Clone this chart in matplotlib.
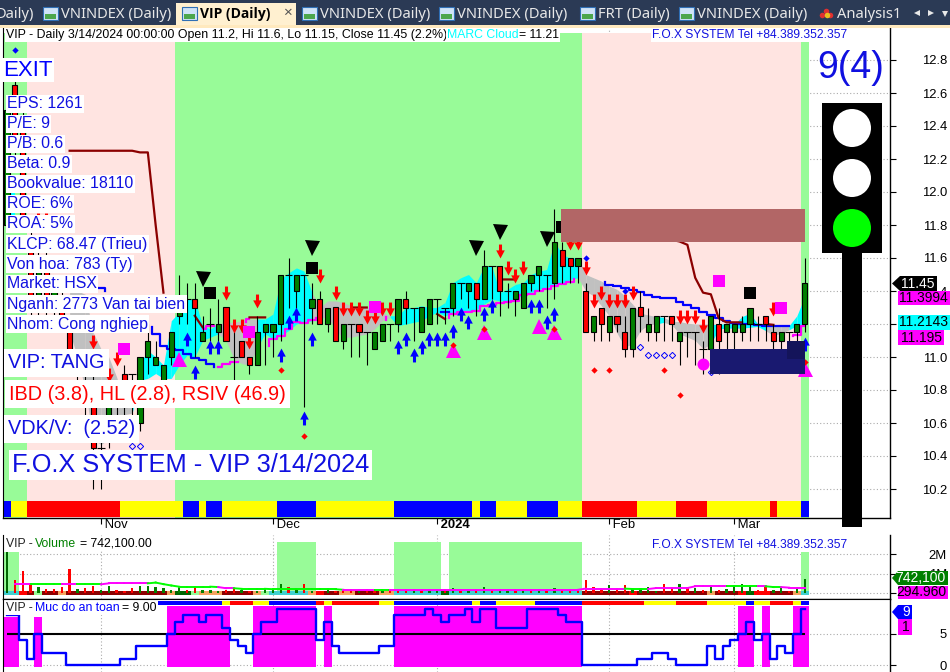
import numpy as np
import matplotlib
matplotlib.use('Agg')
import matplotlib.pyplot as plt
from matplotlib.patches import Rectangle, Circle
from matplotlib.path import Path

plt.rcParams['font.family'] = ['Liberation Sans', 'DejaVu Sans']
nan = np.nan

# candles, one row per session
opens = [11.8,12.65,12.45,11.7,11.3,11.6,11.3,11.35,11.2,10.95,10.8,10.75,10.45,10.65,10.75,10.9,10.9,
         10.6,11.0,10.95,10.8,11.0,11.25,11.35,11.35,11.1,11.2,11.15,11.3,11.0,11.1,11.0,10.95,11.15,11.15,11.2,11.5,11.4,
         11.5,11.3,11.35,11.2,11.3,11.1,11.2,11.2,11.15,11.05,11.1,11.2,11.2,11.35,11.3,11.15,11.2,11.35,11.3,11.3,11.45,11.4,11.45,11.35,11.55,11.55,11.4,11.35,11.3,11.45,11.5,11.5,11.45,11.65,11.6,11.55,
         11.4,11.15,11.3,11.15,11.25,11.15,11.05,11.3,11.15,11.15,11.25,11.25,11.1,11.15,11.15,11.05,11.05,11.2,11.15,11.15,11.15,11.2,11.2,11.25,11.15,11.1,11.15,11.15,11.2]
closes = [12.5,12.25,11.85,11.3,11.6,11.3,11.4,11.25,11.05,10.95,10.8,10.45,10.45,10.8,10.75,10.7,10.9,
          11.0,11.1,11.0,10.95,11.15,11.3,11.35,11.3,11.15,11.2,11.2,11.1,11.0,11.0,10.95,11.15,11.2,11.2,11.5,11.5,11.5,
          11.5,11.35,11.2,11.3,11.1,11.2,11.2,11.15,11.15,11.15,11.2,11.2,11.35,11.3,11.3,11.3,11.35,11.35,11.3,11.45,11.45,11.45,11.35,11.55,11.55,11.4,11.4,11.4,11.45,11.5,11.55,11.5,11.7,11.55,11.55,11.6,
          11.15,11.25,11.2,11.25,11.2,11.05,11.3,11.25,11.2,11.25,11.25,11.2,11.15,11.15,11.15,11.05,11.25,11.1,11.2,11.2,11.2,11.3,11.2,11.2,11.1,11.15,11.15,11.2,11.45]
highs = [12.5,12.7,12.5,11.8,11.7,11.7,11.5,11.4,11.25,11.05,10.9,11.0,10.5,10.85,10.85,10.95,10.9,
         11.0,11.2,11.1,10.95,11.15,11.5,11.45,11.45,11.25,11.3,11.35,11.3,11.2,11.1,11.0,11.25,11.2,11.2,11.5,11.6,11.5,
         11.5,11.45,11.4,11.3,11.3,11.2,11.2,11.2,11.15,11.15,11.2,11.2,11.35,11.4,11.3,11.3,11.35,11.35,11.3,11.45,11.45,11.45,11.45,11.65,11.55,11.55,11.45,11.4,11.45,11.5,11.55,11.5,11.9,11.7,11.6,11.6,
         11.45,11.25,11.3,11.25,11.25,11.25,11.3,11.4,11.3,11.25,11.25,11.25,11.15,11.15,11.15,11.1,11.25,11.3,11.2,11.2,11.25,11.3,11.25,11.25,11.2,11.15,11.15,11.2,11.6]
lows = [11.8,12.2,11.8,11.2,11.25,11.25,11.25,11.2,11.0,10.7,10.65,10.2,10.2,10.45,10.65,10.65,10.65,
        10.55,10.9,10.95,10.75,10.95,11.2,11.2,11.0,11.1,11.1,11.05,11.1,10.85,11.0,10.9,10.95,10.95,11.0,11.1,11.3,11.3,
        10.7,11.2,11.2,11.15,11.1,11.05,11.0,11.0,10.95,11.05,11.1,11.1,11.15,11.2,11.1,11.15,11.2,11.2,11.2,11.25,11.35,11.3,11.25,11.35,11.35,11.25,11.3,11.25,11.3,11.4,11.4,11.3,11.35,11.45,11.45,11.45,
        11.15,11.1,11.1,11.1,11.15,11.0,11.0,11.15,11.1,11.1,11.1,11.1,10.95,11.0,10.95,10.9,11.0,10.9,11.0,11.05,11.1,11.1,11.1,11.1,11.05,11.0,11.0,11.05,11.15]

# cloud edges, nan where nothing shows
cloud_top = [12.0,12.0,nan,nan,nan,nan,nan,nan,11.40,11.40,11.38,11.15,11.05,11.0,10.88,10.73,10.70,
             10.96,11.04,11.00,10.95,11.22,11.27,11.35,11.35,11.19,11.17,11.20,11.21,11.21,11.22,11.23,11.23,11.23,11.26,11.47,11.51,11.54,
             11.52,11.39,11.30,11.34,11.34,11.33,11.31,11.30,11.30,11.30,11.27,11.25,11.25,11.30,11.30,11.31,11.30,11.30,11.33,11.45,11.48,11.50,11.45,11.55,11.55,11.39,11.41,11.44,11.45,11.50,11.52,11.53,11.70,11.62,11.60,11.60,
             11.50,11.48,11.46,11.43,11.41,11.37,11.32,11.265,11.255,11.245,11.24,11.215,11.215,11.205,11.20,11.20,11.20,11.195,11.205,11.20,11.245,11.265,11.20,11.19,11.19,11.19,11.19,11.25,11.366]
cloud_bot = [11.75,11.75,nan,nan,nan,nan,nan,nan,11.15,11.0,10.8,10.5,10.47,10.5,10.55,10.65,10.66,
             10.86,10.87,10.90,10.87,10.87,10.95,11.01,11.0,11.10,11.12,11.14,11.10,10.99,10.96,10.95,11.06,11.14,11.11,11.13,11.16,11.20,
             11.21,11.22,11.23,11.25,11.16,11.12,11.12,11.13,11.14,11.17,11.22,11.24,11.19,11.20,11.21,11.22,11.25,11.27,11.25,11.265,11.275,11.275,11.285,11.32,11.35,11.34,11.34,11.35,11.376,11.39,11.41,11.42,11.44,11.44,11.47,11.48,
             11.40,11.37,11.31,11.25,11.145,11.06,11.08,11.16,11.195,11.20,11.21,11.195,11.14,11.12,11.10,11.05,11.08,11.17,11.175,11.175,11.175,11.18,11.185,11.16,11.13,11.145,11.165,11.19,11.19]
cloud_gray = list(range(8, 17)) + list(range(28, 33)) + list(range(40, 50)) + list(range(74, 84)) + list(range(85, 91)) + [98, 99, 100]

# indicator lines, nan breaks the line
blue_x = [11,12,13,nan,18,19,20,21,22,23,24,25,26,27,nan,55,56,57,nan,76,77,78,79,80,81,82,83,84,85,86,87,88,89,90,91,92,93,94,95,96,97,98,99,100]
blue_y = [11.42,11.42,11.4,nan,11.18,11.14,11.066,11.05,11.04,11.02,10.995,10.98,10.96,10.94,nan,11.275,11.275,11.275,nan,
          11.453,11.437,11.43,11.417,11.406,11.395,11.376,11.366,11.36,11.356,11.335,11.315,11.295,11.275,11.255,11.235,11.22,11.205,11.2,11.198,11.195,11.19,11.19,11.19,11.19]
magenta_x = [27,28,29,30,nan,33,34,35,36,37,38,39,40,nan,48,49,nan,56,57,58,59,60,61,62,63,64,65,66,67,68,69,70,71,72,73,nan,99,nan,100,101,102]
magenta_y = [10.94,10.96,10.97,10.97,nan,11.066,11.11,11.13,11.17,11.21,11.208,11.225,11.235,nan,11.225,11.24,nan,11.235,11.26,11.27,11.275,11.28,11.31,11.315,11.33,11.335,11.34,11.376,11.38,11.40,11.415,11.43,11.44,11.457,11.47,nan,11.195,nan,11.13,11.135,11.19]
magenta2_x = [25,26,27,nan,30,31]
magenta2_y = [11.167,11.187,11.19,nan,11.21,11.23]
darkred_x = [8,9,10,11,12,13,14,15,16,17,18,19,20,nan,24,25,nan,31,32,33,nan,44,45,46,nan,55,56,nan,63,64,65,nan,84,85,86,87,88,89,90,91,92,93,94,nan,97,98]
darkred_y = [12.25,12.25,12.25,12.25,12.25,12.25,12.25,12.25,12.25,12.24,12.24,11.8,11.39,nan,11.25,11.18,nan,11.24,11.24,11.24,nan,11.30,11.30,11.30,nan,11.26,11.23,nan,11.47,11.47,11.47,nan,11.72,11.71,11.70,11.68,11.48,11.39,11.38,11.235,11.21,11.21,11.21,nan,11.2,11.195]

# signal markers: bar number and price
red_arrow_x = [4,5,11,13,14,28,29,30,31,32,40,42,43,44,45,46,47,48,49,63,64,65,66,72,73,74,75,76,77,78,79,80,86,87,88,89,98]
red_arrow_y = [11.83,11.83,11.09,10.89,10.99,11.39,11.19,11.19,11.09,11.34,11.49,11.39,11.29,11.29,11.29,11.24,11.24,11.29,11.29,11.64,11.54,11.49,11.54,11.69,11.69,11.54,11.34,11.39,11.34,11.34,11.34,11.39,11.24,11.24,11.24,11.19,11.29]
blue_arrow_x = [23,24,26,27,35,36,37,38,39,50,51,52,53,54,55,56,57,58,59,61,62,67,68,69,70,102]
blue_arrow_y = [11.11,10.91,11.06,11.06,11.01,11.21,11.26,10.63,11.11,11.06,11.11,11.01,11.06,11.11,11.11,11.11,11.16,11.26,11.21,11.26,11.31,11.31,11.31,11.21,11.26,11.08]
black_tri_x = [25,39,60,63,69]
black_tri_y = [11.47,11.66,11.66,11.76,11.715]
black_sq_x = [26,39,71,95]
black_sq_y = [11.39,11.54,11.79,11.39]
magenta_sq_x = [15,31,47,91,99]
magenta_sq_y = [11.05,11.15,11.305,11.46,11.30]
magenta_tri_x = [22,57,61,68,70,102]
magenta_tri_y = [10.99,11.04,11.15,11.19,11.15,10.93]
red_dia_x = [35,38,57,61,70,75,77,84,86,102]
red_dia_y = [10.92,10.52,11.07,11.17,11.17,10.92,10.92,10.92,10.77,10.97]
blue_dia_x = [1,74,79]
blue_dia_y = [12.86,11.6,11.40]
hollow_x = [16,17,81,82,83,84,85,90]
hollow_y = [10.46,10.46,11.06,11.01,11.01,11.01,11.01,10.91]

# run lengths in bars
bg_colors = ['#98FB98','#FFE4E1','#98FB98','#FFE4E1','#98FB98']
bg_runs = [3,19,52,28,1]
strip_colors = 'BYRYBYBYBYBYBYBYRYRYRYB'
strip_runs = [1,2,12,8,2,1,2,7,5,10,10,1,2,4,4,3,7,5,4,8,1,3,1]
safe_strip_colors = 'BYRYBRYRYBYBYBRYRYBYRYB'
safe_strip_runs = [9,1,3,2,6,1,1,6,2,10,1,2,5,6,8,4,4,5,1,2,3,1,1]

# volume panel, millions
volume = [2.12,.67,1.13,.53,.31,.2,.2,.3,1.23,.2,.27,.36,.15,.4,.15,.1,.27,.36,.36,.3,.25,.15,.4,.15,.3,.15,.15,.12,.15,.2,
          .15,.1,.12,.2,.15,.5,.3,.17,.46,.1,.08,.17,.1,.12,.15,.14,.1,.17,.12,.15,.12,.1,.15,.1,.14,.12,.1,.25,.1,.12,
          .14,.3,.12,.1,.14,.12,.1,.14,.12,.1,.25,.12,.14,.1,
          .68,.3,.17,.43,.17,.43,.22,.26,.3,.14,.46,.26,.5,.34,.26,.17,.43,.17,.24,.34,.46,.43,.17,.34,.17,.26,.14,.22,.742]
vol_colors = 'grrrgrrrrgrrggrrrgggggg' + 'rrgggrr' + 'grgg' + 'ggrgrgrgr' + 'rrgrrgrrrgrggrgrgrgrggrgrgrgrrr' + 'rrrgrrggggrrgrgrgrggggrrggrgg'
vol_ma = [.46]*12 + [.51]*6 + [.55,.47,.40,.34,.34,.34,.34,.34,.32,.26,.26,.23,.23,.23,.23] + [.21]*9 + [.18]*31 + [.24]*6 + [.22]*3 + [.27]*5 + [.36]*10 + [.32,.32,.29,.29,.29]
ma_colors = 'MGMGMGMGMGMGMGMGM'
ma_runs = [3,4,2,3,6,9,2,14,4,2,30,3,10,4,1,2,3]
band_colors = 'TRDLDODOKLODOLTORDODOTKTDRDODRKRDOT'
band_runs = [2,1,1,1,2,1,13,1,2,1,3,4,1,1,5,1,1,2,2,3,2,6,1,17,6,1,9,1,3,1,1,2,3,1,1]
vol_span_start = [-0.5,34.5,49.5,56.5,101.5]
vol_span_end = [1.5,39.5,55.5,73.5,102.5]
vol_span_top = [2.12,2.65,2.65,2.65,2.12]

# safety panel
safety = [8,8,4,1,5,2,2,2,0,0,0,0,0,0,0,1,1,3,3,3,3,5,7,8,8,7,8,8,6,4,3,2,5,7,7,9,9,9,9,9,4,7,3,2,2,2,2,2,3,3,
          8,8,8,8,9,8,7,8,8,9,7,9,9,6,6,6,6,9,9,9,9,8,7,7,0,0,0,0,0,0,0,1,1,2,2,1,0,0,0,0,3,1,3,4,5,7,4,5,1,3,2,5,9]

month_x = [12,34,55,77,93]
month_labels = [' Nov',' Dec',' 2024',' Feb',' Mar']
price_ticks = [10.2,10.4,10.6,10.8,11.0,11.2,11.4,11.6,11.8,12.0,12.2,12.4,12.6,12.8]

W, H = 950, 672
n = len(closes)
xs = np.arange(n)
GREEN, RED = '#008000', '#FF0000'
STRIP = {'B':'#0000FF','Y':'#FFFF00','R':'#FF0000'}
BAND = {'T':'#40D0D0','R':'#FF0000','D':'#8B0000','L':'#98FB98','O':'#F4A460','K':'#006400'}
DOTS = (0, (1, 2))

fig = plt.figure(figsize=(W/100, H/100), dpi=100, facecolor='white')

def panel(top, bottom):
    a = fig.add_axes([3/W, 1-bottom/H, 887/W, (bottom-top)/H])
    a.set_xlim(-0.52, (890-7.06)/7.82)
    a.yaxis.tick_right()
    a.spines['top'].set_visible(False)
    a.set_axisbelow(True)
    a.grid(True, color='#aaaaaa', ls=DOTS, lw=0.8)
    a.set_xticks(month_x)
    a.tick_params(axis='y', length=4, width=0.8, labelsize=9.4, pad=37)
    for t in a.get_yticklabels():
        t.set_ha('right')
    return a

def run_spans(a, colors, runs, start=-0.5, lo=0.0, hi=1.0):
    x = start
    for c, r in zip(colors, runs):
        a.axvspan(x, x+r, ymin=lo, ymax=hi, color=c, lw=0)
        x += r

# main price panel
ax = panel(28, 518)
ax.set_ylim(12.8-(518-60)/165, 12.8-(28-60)/165)
ax.set_yticks(price_ticks)
ax.set_yticklabels(['%.1f' % p for p in price_ticks], ha='right')
ax.set_xticklabels(month_labels, ha='left')
ax.tick_params(axis='x', length=4, width=0.8, labelsize=9.4, pad=-3)
ax.get_xticklabels()[2].set_fontweight('bold')

run_spans(ax, bg_colors, bg_runs, hi=(518-33)/490)
run_spans(ax, [STRIP[c] for c in strip_colors], strip_runs, lo=1/490, hi=17/490)

for i in range(n-1):
    if np.isnan(cloud_top[i]) or np.isnan(cloud_top[i+1]):
        continue
    c = '#C0C0C0' if i+1 in cloud_gray else '#00FFFF'
    ax.fill_between([i, i+1], [cloud_bot[i], cloud_bot[i+1]], [cloud_top[i], cloud_top[i+1]], color=c, lw=0, zorder=2)

ax.plot(blue_x, blue_y, color='#0000FF', lw=1.6, drawstyle='steps-mid', zorder=3)
ax.plot(magenta_x, magenta_y, color='#FF00FF', lw=1.6, drawstyle='steps-mid', zorder=3)
ax.plot(magenta2_x, magenta2_y, color='#FF00FF', lw=1.6, drawstyle='steps-mid', zorder=3)
ax.plot(darkred_x, darkred_y, color='#8B0000', lw=1.6, zorder=3)

ax.vlines(xs, lows, highs, color='black', lw=0.8, zorder=4)
for i in range(n):
    if opens[i] == closes[i]:
        ax.hlines(opens[i], i-0.5, i+0.5, color='black', lw=0.8, zorder=5)
    else:
        c = GREEN if closes[i] > opens[i] else RED
        ax.bar(i, abs(closes[i]-opens[i]), 0.66, min(opens[i], closes[i]), color=c, ec='black', lw=0.8, zorder=5)

up = Path([(-0.11,-0.5),(0.11,-0.5),(0.11,-0.08),(0.31,-0.08),(0,0.5),(-0.31,-0.08),(-0.11,-0.08),(-0.11,-0.5)], closed=True)
down = Path(up.vertices * [1,-1], closed=True)
ax.plot(red_arrow_x, red_arrow_y, ls='', marker=down, ms=10, color='#FF0000', mew=0, zorder=6)
ax.plot(blue_arrow_x, blue_arrow_y, ls='', marker=up, ms=10, color='#0000FF', mew=0, zorder=6)
ax.plot(magenta_tri_x, magenta_tri_y, ls='', marker='^', ms=10.8, color='#FF00FF', mew=0, zorder=6)
ax.plot(black_tri_x, black_tri_y, ls='', marker='v', ms=10.8, color='black', mew=0, zorder=6)
ax.plot(black_sq_x, black_sq_y, ls='', marker='s', ms=8.6, color='black', mew=0, zorder=6)
ax.plot(magenta_sq_x, magenta_sq_y, ls='', marker='s', ms=8.6, color='#FF00FF', mew=0, zorder=6)
ax.plot(red_dia_x, red_dia_y, ls='', marker='D', ms=3.2, color='#FF0000', mew=0, zorder=7)
ax.plot(blue_dia_x, blue_dia_y, ls='', marker='D', ms=3.2, color='#0000FF', mew=0, zorder=7)
ax.plot(hollow_x, hollow_y, ls='', marker='D', ms=3.2, mfc='none', mec='#0000FF', mew=0.7, zorder=7)
ax.plot([89], [10.96], ls='', marker='o', ms=8.6, color='#FF00FF', mew=0, zorder=7)

ax.add_patch(Rectangle((70.8, 11.70), 31.2, 0.20, fc='#B26666', ec='none', zorder=8))
ax.add_patch(Rectangle((89.9, 10.90), 12.1, 0.15, fc='#191970', ec='none', zorder=8))
ax.add_patch(Rectangle((99.8, 10.99), 2.2, 0.11, fc='#14145A', ec='none', zorder=8))

# volume panel
vol = panel(535, 599)
vol.set_ylim((593.3-599)/19.5, (593.3-535)/19.5)
vol.set_yticks([0,1,2])
vol.set_yticklabels(['0','1M','2M'], ha='right')
vol.set_xticklabels([])
vol.tick_params(axis='x', length=0)
for a, b, t in zip(vol_span_start, vol_span_end, vol_span_top):
    vol.fill_between([a, b], 0, t, color='#98FB98', lw=0, zorder=1)
run_spans(vol, [BAND[c] for c in band_colors], band_runs, lo=(599-594.5)/64, hi=(599-591)/64)
vol.bar(xs, volume, 0.3, color=[GREEN if c == 'g' else RED for c in vol_colors], zorder=3)
vol.bar([0], volume[:1], 0.3, color='#006400', zorder=3)
seg_colors = []
for c, r in zip(ma_colors, ma_runs):
    seg_colors += [c]*r
for i in range(len(vol_ma)-1):
    vol.plot([i+1, i+2], vol_ma[i:i+2], color='#00FF00' if seg_colors[i+1] == 'G' else '#FF00FF', lw=1.4, zorder=4)

# safety panel
sf = panel(599, 672)
sf.set_ylim((665-672)/6.2, (665-599)/6.2)
sf.set_yticks([0,5])
sf.set_yticklabels(['0','5'], ha='right')
sf.set_xticklabels([])
sf.tick_params(axis='x', length=0)
sf.spines['bottom'].set_visible(False)
sf.spines['top'].set_visible(True)
for i in range(n):
    if safety[i] >= 5:
        top = 7.8 if i < 5 else 9.5
        sf.bar(i, top+0.3, 1.0, -0.3, color='#FF00FF', lw=0, zorder=1)
run_spans(sf, [STRIP[c] for c in safe_strip_colors], safe_strip_runs, start=18.5, lo=(672-605)/73, hi=(672-600.7)/73)
sf.hlines(5, 0, 102, color='black', lw=1.5, zorder=3)
sf.plot(xs, safety, color='#0000FF', lw=1.7, drawstyle='steps-mid', zorder=4)

for a in (ax, vol, sf):
    a.spines['left'].set_linewidth(0.8)
    a.spines['right'].set_linewidth(1.0)
    a.spines['bottom'].set_linewidth(1.0)

# overlay in pixel units for the boxes, tags and tab bar
ov = fig.add_axes([0, 0, 1, 1])
ov.set_xlim(0, W)
ov.set_ylim(H, 0)
ov.axis('off')

def txt(x, y, s, size, color='black', bg='white', weight='normal', family=None, pad=1.0):
    box = dict(fc=bg, ec='none', pad=pad) if bg else None
    kw = {'family': family} if family else {}
    return ov.text(x, y, s, fontsize=size, color=color, va='center', ha='left', bbox=box, fontweight=weight, **kw)

# tab bar
ov.add_patch(Rectangle((0, 0), W, 26, fc='#2B3A55', ec='none'))
ov.add_patch(Rectangle((176, 3), 120, 23, fc='#FFF0D0', ec='none'))
ov.add_patch(Rectangle((0, 25), W, 3, fc='#FFE9BE', ec='none'))
TAB = 'Noto Sans'
txt(-4, 14, 'Daily)', 10.6, '#E8E8E8', None, family=TAB)
for x, s in [(61,'VNINDEX (Daily)'),(320,'VNINDEX (Daily)'),(457,'VNINDEX (Daily)'),(598,'FRT (Daily)'),(697,'VNINDEX (Daily)'),(837,'Analysis1')]:
    txt(x, 14, s, 10.6, '#E8E8E8', None, family=TAB)
txt(200, 14, 'VIP (Daily)', 10, 'black', None, 'bold', 'Open Sans')
txt(283, 13, '×', 11, '#555555', None, family=TAB)
for x in [43, 182, 302, 439, 580, 679]:
    ov.add_patch(Rectangle((x, 7), 15, 13, fc='#CFE3F7', ec='#2F6FB5', lw=0.8))
    ov.add_patch(Rectangle((x+2, 14), 11, 5, fc='#4CA64C', ec='none'))
ov.plot([822, 826, 830], [15, 11, 15], ls='', marker='o', ms=4, color='#E03030', mew=0)
ov.plot([827], [15], ls='', marker='o', ms=4, color='#E8C020', mew=0)
ov.plot([917], [13], ls='', marker='<', ms=5, color='#E8E8E8', mew=0)
ov.plot([931], [13], ls='', marker='>', ms=5, color='#E8E8E8', mew=0)
ov.plot([945], [14], ls='', marker='v', ms=5, color='#E8E8E8', mew=0)

# headers
txt(6, 35, 'VIP - Daily 3/14/2024 00:00:00 Open 11.2, Hi 11.6, Lo 11.15, Close 11.45 (2.2%)', 8.95)
txt(447, 35, 'MARC Cloud', 8.8, '#00FFFF')
txt(519, 35, '= 11.21', 8.8)
txt(652, 35, 'F.O.X SYSTEM Tel +84.389.352.357', 8.65, '#1010E0')
txt(652, 545, 'F.O.X SYSTEM Tel +84.389.352.357', 8.65, '#1010E0')
txt(6, 544, 'VIP -', 8.85, '#222222')
txt(35, 544, 'Volume', 8.85, '#008000')
txt(80, 544, '= 742,100.00', 8.85)
txt(6, 608, 'VIP -', 8.85, '#222222')
txt(35, 608, 'Muc do an toan', 8.85, '#0000FF')
txt(122, 608, '= 9.00', 8.85)

# info boxes
txt(3, 70, 'EXIT', 16, '#0000FF')
info = ['EPS: 1261','P/E: 9','P/B: 0.6','Beta: 0.9','Bookvalue: 18110','ROE: 6%','ROA: 5%','KLCP: 68.47 (Trieu)',
        'Von hoa: 783 (Ty)','Market: HSX','Nganh: 2773 Van tai bien','Nhom: Cong nghiep']
for k, s in enumerate(info):
    txt(7, 104+20*k, s, 11.4, '#1010E0')
txt(8, 363, 'VIP: TANG', 14.3, '#1010E0', pad=3)
txt(9, 394, 'IBD (3.8), HL (2.8), RSIV (46.9)', 14.35, '#FF0000', pad=3)
txt(8, 429, 'VDK/V:  (2.52)', 14.3, '#1010E0', pad=3)
txt(12, 465, 'F.O.X SYSTEM - VIP 3/14/2024', 18.3, '#1010E0', pad=2)
txt(817, 68, '9(4)', 27, '#1010E0', None)

# traffic light
ov.add_patch(Rectangle((842, 252), 20, 275, fc='black', ec='none'))
ov.add_patch(Rectangle((822, 103), 60, 150, fc='black', ec='none'))
for cy, c in [(128,'white'),(178,'white'),(228,'#00FF00')]:
    ov.add_patch(Circle((852, cy), 19, fc=c, ec='none'))

# value tags on the scale
def tag(x0, x1, y0, y1, s, fc, tc, arrow=False):
    ov.add_patch(Rectangle((x0, y0), x1-x0, y1-y0, fc=fc, ec='none'))
    if arrow:
        ov.fill([892, x0, x0], [(y0+y1)/2, y0, y1], color=fc, lw=0)
    ov.text(x1-2, (y0+y1)/2, s, fontsize=10, color=tc, ha='right', va='center')

tag(900, 937, 276, 291, '11.45', 'black', 'white', True)
tag(898, 950, 291, 305, '11.3994', '#FF00FF', 'black')
tag(898, 950, 315, 330, '11.2143', '#00FFFF', 'black')
tag(898, 944, 330, 345, '11.195', '#FF00FF', 'black')
tag(898, 948, 571, 585, '742,100', '#008000', 'white', True)
tag(898, 948, 586, 599, '294.960', '#FF00FF', 'black')
tag(898, 912, 605, 619, '9', '#0000FF', 'white', True)
tag(898, 912, 619, 635, '1', '#FF00FF', 'black')

fig.savefig('out.png', dpi=100)
